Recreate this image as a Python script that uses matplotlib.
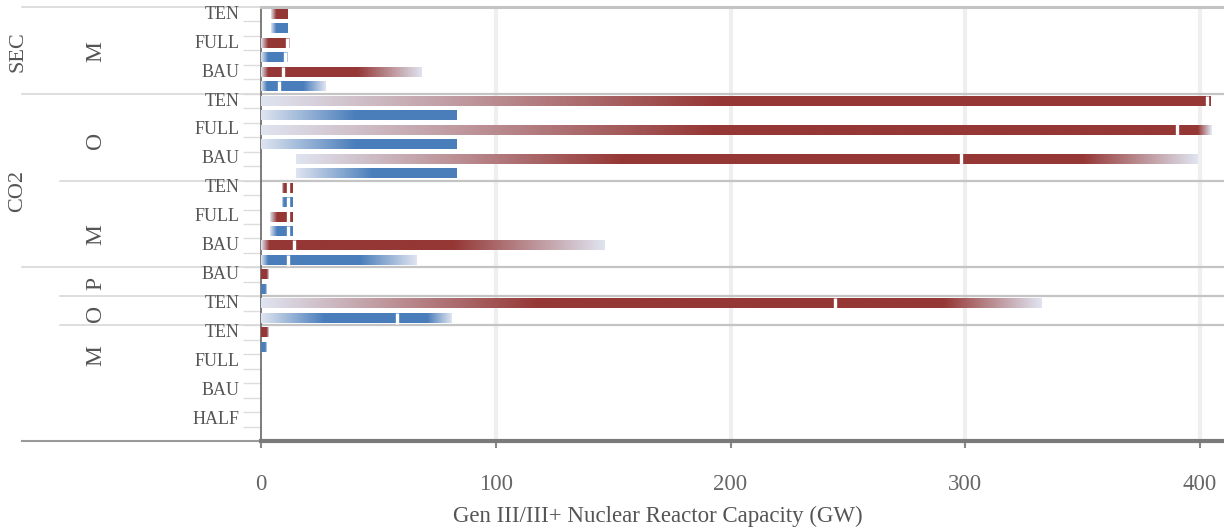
import numpy as np
import matplotlib.pyplot as plt
from matplotlib.colors import to_rgb
from matplotlib.transforms import blended_transform_factory

plt.rcParams['font.family'] = ['Liberation Serif', 'DejaVu Serif']

#----------DATA--------
# one entry per scenario row (each row has a red and a blue bar)
scenario = ["TEN", "FULL", "BAU", "TEN", "FULL", "BAU", "TEN", "FULL", "BAU",
            "BAU", "TEN", "TEN", "FULL", "BAU", "HALF"]
mid_labels = ["M", "O", "M", "P", "O", "M"]
mid_sizes = [3, 3, 3, 1, 1, 4]
outer_labels = ["SEC", "CO2"]

# red series: min, start of dark band, median, end of dark band, max (GW)
red_min = [4.1, 0, 0, 0, 0, 14.9, 9.1, 3.8, 0, 0, 0, 0, 0, 0, 0]
red_lo = [6.3, 3.0, 3.0, 195, 192, 154, 9.8, 6.8, 3.5, 0, 118, 0, 0, 0, 0]
red_med = [np.nan, 10.9, 9.2, 402.9, 390.2, 298.0, 11.6, 11.7, 14.2, np.nan, 244.5, np.nan, np.nan, np.nan, np.nan]
red_hi = [11.1, 11.5, 40.8, 404.5, 399.1, 350.2, 13.5, 13.5, 81.9, 2.5, 290.7, 2.5, 0, 0, 0]
red_max = [11.1, 12.1, 68.2, 404.5, 404.7, 398.9, 13.5, 13.5, 146.5, 3.4, 332.3, 3.4, 0, 0, 0]

# blue series
blue_min = [4.1, 0, 0, 0, 0, 14.9, 8.9, 3.8, 0, 0, 0, 0, 0, 0, 0]
blue_lo = [6.3, 3.0, 2.5, 40, 40, 47.6, 9.6, 6.8, 3.0, 0, 26.8, 0, 0, 0, 0]
blue_med = [np.nan, 10.1, 7.5, np.nan, np.nan, np.nan, 11.7, 11.7, 11.7, np.nan, 57.8, np.nan, np.nan, np.nan, np.nan]
blue_hi = [11.2, 10.6, 17.9, 83.4, 83.4, 83.4, 13.5, 13.5, 42.2, 1.8, 70.7, 1.8, 0, 0, 0]
blue_max = [11.2, 11.2, 27.3, 83.4, 83.4, 83.4, 13.5, 13.5, 66.3, 2.4, 81.1, 2.4, 0, 0, 0]

#----------PLOT--------
W, H = 1224, 531
L, T, B = 261, 7, 441
fig = plt.figure(figsize=(W / 100, H / 100), dpi=100)
ax = fig.add_axes([L / W, 1 - B / H, (W - L) / W, (B - T) / H])
n_slots = 2 * len(scenario)
xmax = 410.2
pxw = W - L
trans = blended_transform_factory(ax.transAxes, ax.transData)

light = np.array(to_rgb("#dfe4f0"))
bar_h = 0.66


def draw_bar(y, mn, lo, med, hi, mx, dark):
    if mx <= 0:
        return
    xs = np.linspace(mn, mx, 500)
    t = np.ones_like(xs)
    if lo > mn:
        m = xs < lo
        t[m] = (xs[m] - mn) / (lo - mn)
    if mx > hi:
        m = xs > hi
        t[m] = 1 - (xs[m] - hi) / (mx - hi)
    t = np.clip(t, 0, 1)[:, None]
    img = (light * (1 - t) + np.array(to_rgb(dark)) * t)[None, :, :]
    ax.imshow(img, extent=(mn, mx, y + bar_h / 2, y - bar_h / 2), aspect="auto",
              interpolation="bilinear", zorder=3)
    if not np.isnan(med):
        ax.plot([med, med], [y - bar_h / 2 - 0.05, y + bar_h / 2 + 0.05], color="white",
                lw=2.4, solid_capstyle="butt", zorder=4)


for i in range(len(scenario)):
    draw_bar(2 * i + 0.5, red_min[i], red_lo[i], red_med[i], red_hi[i], red_max[i], "#953735")
    draw_bar(2 * i + 1.5, blue_min[i], blue_lo[i], blue_med[i], blue_hi[i], blue_max[i], "#4a7ebb")
    ax.text(-21 / pxw, 2 * i + 0.5, scenario[i], transform=trans, ha="right", va="center",
            fontsize=13, color="#555555")

ax.set_xlim(0, xmax)
ax.set_ylim(n_slots, 0)
ax.set_aspect("auto")

# gridlines
for v in [100, 200, 300, 400]:
    ax.axvline(v, color="#efefef", lw=3, zorder=0)

# group separators
bounds = np.cumsum([2 * s for s in mid_sizes])[:-1]
outer_bounds = [6, 18]
for b in bounds:
    ax.axhline(b, color="#c4c4c4", lw=1.6, zorder=1)
    x0 = (22 - L) / pxw if b in outer_bounds else (60 - L) / pxw
    ax.plot([x0, 0], [b, b], transform=trans, color="#d8d8d8", lw=1.2, clip_on=False)
ax.plot([(22 - L) / pxw, 0], [0, 0], transform=trans, color="#d8d8d8", lw=1.2, clip_on=False)
ax.plot([(22 - L) / pxw, 0], [n_slots, n_slots], transform=trans, color="#999999", lw=1.5, clip_on=False)

# middle and outer group labels
mid_pos = [3.1, 9.2, 15.7, 19.1, 21.2, 24.1]
for lab, yp in zip(mid_labels, mid_pos):
    ax.text((96 - L) / pxw, yp, lab, transform=trans, rotation=90, ha="center", va="center",
            fontsize=17, color="#555555")
outer_pos = [3.1, 12.75]
for lab, yp in zip(outer_labels, outer_pos):
    ax.text((17.5 - L) / pxw, yp, lab, transform=trans, rotation=90, ha="center", va="center",
            fontsize=16, color="#555555")

# axes styling
ax.spines["right"].set_visible(False)
ax.spines["top"].set_color("#c4c4c4")
ax.spines["top"].set_linewidth(2.2)
ax.spines["bottom"].set_color("#7a7a7a")
ax.spines["bottom"].set_linewidth(3)
ax.spines["left"].set_color("#666666")
ax.spines["left"].set_linewidth(1.2)
ax.set_yticks(range(1, n_slots))
ax.tick_params(axis="y", length=13, width=1, color="#dddddd", labelleft=False)
ax.set_xticks([0, 100, 200, 300, 400])
ax.tick_params(axis="x", length=5, width=1.5, color="#888888", labelsize=16.5,
               labelcolor="#666666", pad=19)

fig.text(657.5 / W, 1 - 516 / H, "Gen III/III+ Nuclear Reactor Capacity (GW)", ha="center",
         va="center", fontsize=16.5, color="#555555")

fig.savefig("out.png", dpi=100)
